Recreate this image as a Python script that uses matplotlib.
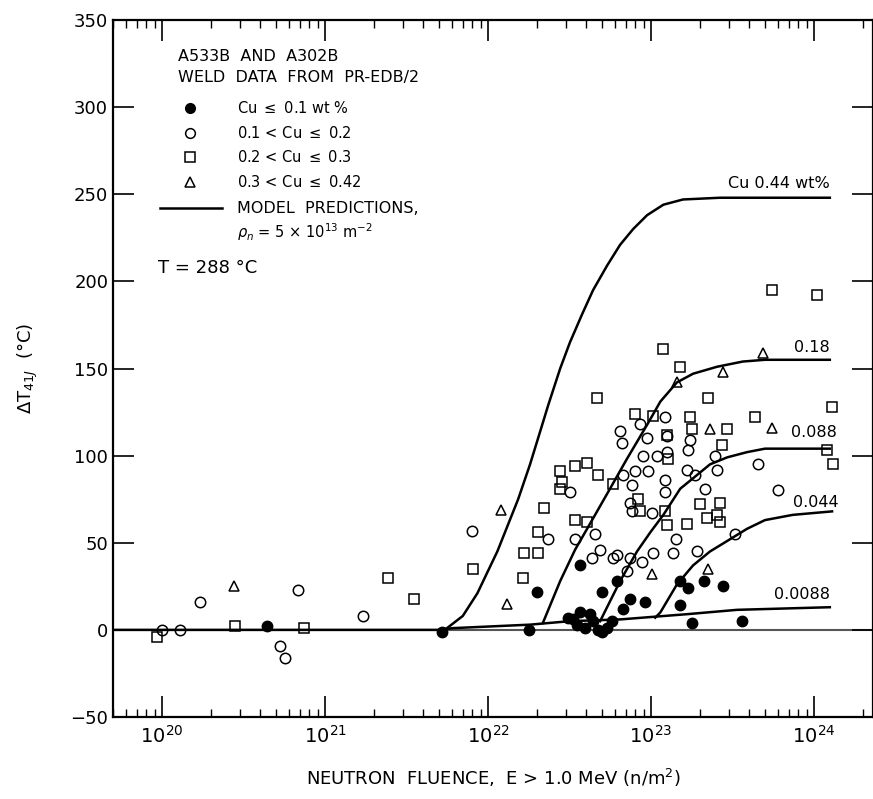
import matplotlib.pyplot as plt
from matplotlib.ticker import LogLocator, NullFormatter, MultipleLocator

# ---------------- data ----------------
# Cu <= 0.1 wt% (filled circles)
low_x = [4.4e20, 5.2e21, 1.78e22, 2.0e22, 3.67e22, 5.0e22, 6.18e22, 7.43e22, 6.73e22, 9.19e22,
         3.32e22, 3.67e22, 3.94e22, 4.41e22, 5.37e22, 4.73e22, 3.52e22, 4.2e22, 5.77e22, 3.1e22,
         5.0e22, 1.51e23, 1.69e23, 2.1e23, 2.77e23, 1.51e23, 1.79e23, 3.61e23]
low_y = [2, -1, 0, 22, 37, 22, 28, 18, 12, 16,
         6, 10, 1, 5, 1, 0, 3, 9, 5, 7,
         -1, 28, 24, 28, 25, 14, 4, 5]

# 0.1 < Cu <= 0.2 (open circles)
mid_x = [1.0e20, 1.29e20, 1.71e20, 5.3e20, 5.7e20, 6.8e20, 1.7e21, 8.0e21, 2.34e22,
         3.18e22, 3.42e22, 4.53e22, 4.87e22, 4.35e22, 6.46e22, 8.57e22, 6.64e22, 9.46e22, 1.09e23,
         8.93e22, 7.98e22, 9.59e22, 6.73e22, 7.64e22, 7.43e22, 7.64e22, 1.01e23, 6.18e22, 7.43e22,
         8.81e22, 1.03e23, 7.12e22, 5.85e22, 1.22e23, 1.73e23, 1.69e23, 2.47e23, 4.53e23, 1.66e23,
         1.86e23, 2.54e23, 1.22e23, 1.22e23, 2.14e23, 1.42e23, 1.36e23, 1.92e23, 3.28e23, 1.25e23,
         1.25e23, 6.01e23]
mid_y = [0, 0, 16, -9, -16, 23, 8, 57, 52,
         79, 52, 55, 46, 41, 114, 118, 107, 110, 100,
         100, 91, 91, 89, 83, 73, 68, 67, 43, 41,
         39, 44, 34, 41, 122, 109, 103, 100, 95, 92,
         89, 92, 86, 79, 81, 52, 44, 45, 55, 102,
         111, 80]

# 0.2 < Cu <= 0.3 (open squares)
high_x = [9.3e19, 2.8e20, 7.4e20, 2.45e21, 3.5e21, 8.1e21, 2.2e22, 2.03e22, 1.66e22, 2.03e22,
          1.64e22, 2.77e22, 2.77e22, 2.85e22, 3.42e22, 4.05e22, 4.73e22, 3.42e22, 4.05e22, 4.67e22,
          1.19e23, 1.51e23, 7.98e22, 1.03e23, 5.85e22, 8.32e22, 8.57e22, 1.73e23, 2.24e23, 1.79e23,
          2.93e23, 1.25e23, 2.73e23, 1.27e23, 2.0e23, 2.65e23, 2.54e23, 2.21e23, 2.65e23, 1.22e23,
          1.25e23, 1.66e23, 4.35e23, 5.52e23, 1.04e24, 1.29e24, 1.20e24, 1.31e24]
high_y = [-4, 2, 1, 30, 18, 35, 70, 56, 44, 44,
          30, 91, 81, 85, 94, 96, 89, 63, 62, 133,
          161, 151, 124, 123, 84, 75, 68, 122, 133, 115,
          115, 112, 106, 98, 72, 73, 66, 64, 62, 68,
          60, 61, 122, 195, 192, 128, 103, 95]

# 0.3 < Cu <= 0.42 (open triangles)
top_x = [2.77e20, 1.2e22, 1.3e22, 1.44e23, 2.77e23, 4.87e23, 5.52e23, 2.3e23, 1.01e23, 2.24e23]
top_y = [25, 69, 15, 142, 148, 159, 116, 115, 32, 35]

# model prediction curves
m044_x = [5.6e21, 7.0e21, 8.6e21, 9.9e21, 1.14e22, 1.27e22, 1.53e22, 1.81e22, 2.09e22, 2.34e22,
          2.77e22, 3.18e22, 3.77e22, 4.41e22, 5.37e22, 6.46e22, 7.76e22, 9.46e22, 1.19e23,
          1.57e23, 2.65e23, 1.25e24]
m044_y = [1, 8, 21, 33, 45, 56, 75, 95, 114, 129,
          150, 165, 181, 195, 209, 221, 230, 238, 244,
          247, 248, 248]
m018_x = [2.17e22, 2.77e22, 3.42e22, 4.41e22, 5.6e22, 7.1e22, 9.5e22, 1.14e23, 1.44e23,
          1.81e23, 2.54e23, 3.66e23, 5.0e23, 1.25e24]
m018_y = [4, 28, 46, 64, 81, 98, 118, 131, 142, 147, 151, 154, 155, 155]
m0088_x = [4.87e22, 6.46e22, 8.2e22, 9.9e22, 1.19e23, 1.51e23, 1.81e23, 2.30e23, 2.93e23,
           3.88e23, 5.0e23, 1.25e24]
m0088_y = [5, 28, 45, 56, 66, 81, 87, 95, 99, 102, 104, 104]
m0044_x = [1.06e23, 1.14e23, 1.44e23, 1.81e23, 2.30e23, 3.05e23, 3.88e23, 5.0e23, 7.4e23, 1.29e24]
m0044_y = [7, 10, 26, 37, 45, 52, 58, 63, 66, 68]
m00088_x = [5e19, 5.0e21, 6.1e21, 1.81e22, 3.18e22, 6.46e22, 1.66e23, 3.37e23, 1.25e24]
m00088_y = [0, 0, 1, 3, 5, 6, 9, 11.5, 13]

curve_labels = ["Cu 0.44 wt%", "0.18", "0.088", "0.044", "0.0088"]

# ---------------- plot ----------------
fig = plt.figure(figsize=(8.73, 7.99), dpi=100)
ax = fig.add_axes([113/873, 1 - 717/799, 760/873, 697/799])

ax.axhline(0, color='#555555', lw=1.5, zorder=1)

for cx, cy in [(m044_x, m044_y), (m018_x, m018_y), (m0088_x, m0088_y),
               (m0044_x, m0044_y), (m00088_x, m00088_y)]:
    ax.plot(cx, cy, color='black', lw=1.8, zorder=2)

ms = 7.5
ax.plot(low_x, low_y, 'o', ms=ms, color='black', zorder=3)
ax.plot(mid_x, mid_y, 'o', ms=ms, mfc='none', mec='black', mew=1.1, zorder=3)
ax.plot(high_x, high_y, 's', ms=ms, mfc='none', mec='black', mew=1.1, zorder=3)
ax.plot(top_x, top_y, '^', ms=ms, mfc='none', mec='black', mew=1.1, zorder=3)

# curve labels
ax.text(1.25e24, 252, curve_labels[0], ha='right', va='bottom', fontsize=11.5)
ax.text(1.25e24, 158, curve_labels[1], ha='right', va='bottom', fontsize=11.5)
ax.text(1.38e24, 109, curve_labels[2], ha='right', va='bottom', fontsize=11.5)
ax.text(1.42e24, 69, curve_labels[3], ha='right', va='bottom', fontsize=11.5)
ax.text(1.25e24, 16, curve_labels[4], ha='right', va='bottom', fontsize=11.5)

# axes
ax.set_xscale('log')
ax.set_xlim(5.0e19, 2.3e24)
ax.set_ylim(-50, 350)
ax.xaxis.set_major_locator(LogLocator(base=10, numticks=10))
ax.xaxis.set_minor_locator(LogLocator(base=10, subs=range(2, 10), numticks=50))
ax.xaxis.set_minor_formatter(NullFormatter())
ax.yaxis.set_major_locator(MultipleLocator(50))
ax.tick_params(which='both', direction='in', top=True, right=True, labelsize=13)
ax.tick_params(which='major', length=15, width=1.2)
ax.tick_params(which='minor', length=6, width=1.0)
ax.tick_params(axis='x', which='major', labelsize=14, pad=6)
for s in ax.spines.values():
    s.set_linewidth(1.6)

ax.set_xlabel("NEUTRON  FLUENCE,  E > 1.0 MeV (n/m$^2$)", fontsize=13, labelpad=14)
ax.set_ylabel(r"$\Delta$T$_{41J}$  (°C)", fontsize=13, labelpad=22)

# legend block drawn as text
tr = ax.transAxes
ax.text(0.0855, 0.947, "A533B  AND  A302B", transform=tr, fontsize=11.5, va='center')
ax.text(0.0855, 0.918, "WELD  DATA  FROM  PR-EDB/2", transform=tr, fontsize=11.5, va='center')
leg_y = [0.874, 0.838, 0.803, 0.768]
leg_txt = [r"Cu $\leq$ 0.1 wt %", r"0.1 < Cu $\leq$ 0.2", r"0.2 < Cu $\leq$ 0.3", r"0.3 < Cu $\leq$ 0.42"]
ax.plot(0.101, leg_y[0], 'o', ms=7, color='black', transform=tr)
ax.plot(0.101, leg_y[1], 'o', ms=7, mfc='none', mec='black', mew=1.1, transform=tr)
ax.plot(0.101, leg_y[2], 's', ms=7, mfc='none', mec='black', mew=1.1, transform=tr)
ax.plot(0.101, leg_y[3], '^', ms=7, mfc='none', mec='black', mew=1.1, transform=tr)
for yy, t in zip(leg_y, leg_txt):
    ax.text(0.163, yy, t, transform=tr, fontsize=10.5, va='center')
ax.plot([0.062, 0.143], [0.730, 0.730], color='black', lw=1.8, transform=tr)
ax.text(0.163, 0.730, "MODEL  PREDICTIONS,", transform=tr, fontsize=11.5, va='center')
ax.text(0.163, 0.696, r"$\rho_n$ = 5 × 10$^{13}$ m$^{-2}$", transform=tr, fontsize=10.5, va='center')
ax.text(0.059, 0.644, "T = 288 °C", transform=tr, fontsize=13, va='center')

fig.savefig("out.png", dpi=100)
